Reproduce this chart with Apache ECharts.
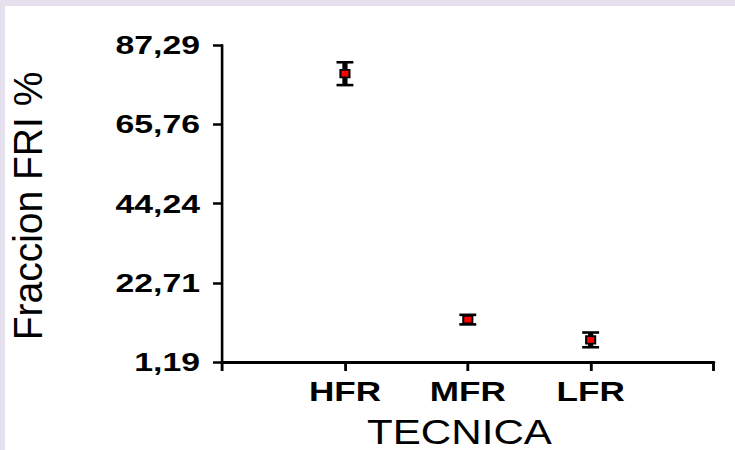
<!DOCTYPE html>
<html>
<head>
<meta charset="utf-8">
<script src="https://cdn.jsdelivr.net/npm/echarts@6/dist/echarts.min.js"></script>
<style>
  html, body { margin: 0; padding: 0; width: 735px; height: 450px; overflow: hidden; background: #e5e0ed; }
  #frame { position: absolute; left: 5px; top: 6px; width: 730px; height: 444px; background: #ffffff; overflow: hidden; }
  /* the plot is drawn narrow and widened horizontally */
  #chart { position: absolute; left: 0; top: 0; width: 562px; height: 444px; transform: scaleX(1.3); transform-origin: 0 0; }
</style>
</head>
<body>
<div id="frame"><div id="chart"></div></div>
<script>
// Mean FRI fraction (%) per technique, with error half-widths
const categories = ['HFR', 'MFR', 'LFR'];
const means = [79.5, 12.7, 7.2];
const errors = [3.1, 1.3, 2.0];

// Y axis ticks and their printed labels
const tickValues = [1.19, 22.715, 44.24, 65.765, 87.29];
const tickLabels = ['1,19', '22,71', '44,24', '65,76', '87,29'];

// Axis titles
const xTitle = 'TECNICA';
const yTitle = 'Fraccion FRI %';

// empty slots at both ends of the category axis
const xCats = [''].concat(categories, ['']);

const FONT = 'Liberation Sans, Arial, sans-serif';
const STRETCH = 1.3; // horizontal widening applied to #chart

const chart = echarts.init(document.getElementById('chart'), null, { renderer: 'svg' });

const pointData = categories.map((c, i) => [i + 1, means[i]]);
const errData = categories.map((c, i) => [i + 1, means[i] - errors[i], means[i] + errors[i]]);

chart.setOption({
  animation: false,
  backgroundColor: '#ffffff',
  grid: { left: 167, right: 17, top: 39, bottom: 88, outerBoundsMode: 'none', containLabel: false },
  // axis titles, kept closer to their natural proportions than the widened plot
  graphic: [
    {
      type: 'text', x: 17.3, y: 200, rotation: Math.PI / 2, scaleY: 1.05 / STRETCH,
      style: { text: yTitle, fontFamily: FONT, fontSize: 39, lineHeight: 32, fill: '#000', align: 'center', verticalAlign: 'middle' }
    },
    {
      type: 'text', x: 349.6, y: 425.5, scaleX: 1.187 / STRETCH,
      style: { text: xTitle, fontFamily: FONT, fontSize: 35.5, lineHeight: 30, fill: '#000', align: 'center', verticalAlign: 'middle' }
    }
  ],
  xAxis: {
    type: 'category',
    data: xCats,
    boundaryGap: false,
    axisLine: { lineStyle: { color: '#000', width: 2.8 } },
    axisTick: { show: true, length: 9, lineStyle: { color: '#000', width: 2.2 } },
    axisLabel: { margin: 16, fontFamily: FONT, fontWeight: 'bold', fontSize: 27, color: '#000' },
    splitLine: { show: false }
  },
  yAxis: {
    type: 'value',
    min: tickValues[0],
    max: tickValues[tickValues.length - 1],
    axisLine: { show: true, lineStyle: { color: '#000', width: 2 } },
    axisTick: { show: true, length: 7, lineStyle: { color: '#000', width: 2.5 }, customValues: tickValues },
    axisLabel: {
      margin: 17, fontFamily: FONT, fontWeight: 'bold', fontSize: 26, color: '#000',
      customValues: tickValues,
      formatter: function (v) {
        const k = tickValues.findIndex(t => Math.abs(t - v) < 1e-6);
        return k >= 0 ? tickLabels[k] : '';
      }
    },
    splitLine: { show: false }
  },
  series: [
    {
      type: 'custom',
      z: 2,
      data: errData,
      renderItem: function (params, api) {
        const lo = api.coord([api.value(0), api.value(1)]);
        const hi = api.coord([api.value(0), api.value(2)]);
        const hw = 6.5;
        const st = { stroke: '#000', lineWidth: 2.6 };
        return {
          type: 'group',
          children: [
            { type: 'line', shape: { x1: lo[0], y1: lo[1], x2: hi[0], y2: hi[1] }, style: { stroke: '#000', lineWidth: 4 } },
            { type: 'line', shape: { x1: lo[0] - hw, y1: lo[1], x2: lo[0] + hw, y2: lo[1] }, style: st },
            { type: 'line', shape: { x1: hi[0] - hw, y1: hi[1], x2: hi[0] + hw, y2: hi[1] }, style: st }
          ]
        };
      }
    },
    {
      type: 'scatter',
      z: 3,
      symbol: 'rect',
      symbolSize: [7, 7.5],
      data: pointData,
      itemStyle: { color: '#ff0000', borderColor: '#000', borderWidth: 1.6, opacity: 1 }
    }
  ]
});
</script>
</body>
</html>
